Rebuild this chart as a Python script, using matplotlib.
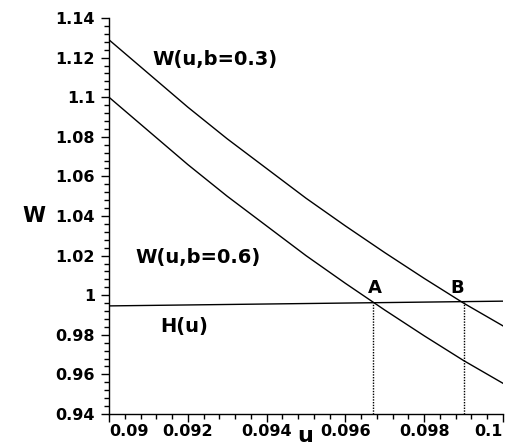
import numpy as np
import matplotlib.pyplot as plt
from matplotlib.ticker import AutoMinorLocator, FuncFormatter

# values
u = [0.090, 0.091, 0.092, 0.093, 0.094, 0.095, 0.096, 0.097, 0.098, 0.099, 0.100]
w_b03 = [1.129, 1.112, 1.095, 1.079, 1.064, 1.049, 1.035, 1.0215, 1.0085, 0.996, 0.9845]
w_b06 = [1.100, 1.083, 1.066, 1.050, 1.035, 1.020, 1.006, 0.9925, 0.9795, 0.967, 0.9555]
h_u = [0.090, 0.100]
h_val = [0.9946, 0.997]
u_A, h_A = 0.0967, 0.9961
u_B, h_B = 0.0990, 0.9967

plt.rcParams['font.family'] = ['DejaVu Sans']
plt.rcParams['font.weight'] = 'bold'

fig = plt.figure(figsize=(5.16, 4.47), dpi=100)
ax = fig.add_axes([0.2112, 0.0738, 0.7636, 0.8859])

ax.plot(u, w_b03, color='black', lw=1.0)
ax.plot(u, w_b06, color='black', lw=1.0)
ax.plot(h_u, h_val, color='black', lw=1.0)
ax.plot([u_A, u_A], [0.94, h_A], color='black', lw=1.0, ls=(0, (1, 1)))
ax.plot([u_B, u_B], [0.94, h_B], color='black', lw=1.0, ls=(0, (1, 1)))

ax.set_xlim(0.09, 0.1)
ax.set_ylim(0.94, 1.14)
ax.set_xticks([0.09, 0.092, 0.094, 0.096, 0.098, 0.1])
ax.set_yticks([0.94, 0.96, 0.98, 1.0, 1.02, 1.04, 1.06, 1.08, 1.1, 1.12, 1.14])
fmt = FuncFormatter(lambda v, p: '%g' % round(v, 4))
ax.xaxis.set_major_formatter(fmt)
ax.yaxis.set_major_formatter(fmt)
ax.xaxis.set_minor_locator(AutoMinorLocator(5))
ax.yaxis.set_minor_locator(AutoMinorLocator(5))

for s in ['top', 'right']:
    ax.spines[s].set_visible(False)
ax.spines['left'].set_linewidth(1.0)
ax.spines['bottom'].set_linewidth(1.0)

ax.tick_params(axis='both', which='major', direction='out', length=6, width=1, labelsize=11.5)
ax.tick_params(axis='both', which='minor', direction='out', length=3.5, width=1)
ax.tick_params(axis='x', which='major', pad=1)
ax.tick_params(axis='y', which='major', pad=4)

xl = ax.get_xticklabels()
xl[0].set_horizontalalignment('left')
xl[-1].set_horizontalalignment('right')
for t in ax.get_xticklabels() + ax.get_yticklabels():
    t.set_fontweight('bold')

ax.text(0.09109, 1.1188, 'W(u,b=0.3)', fontsize=14, fontweight='bold', va='center', ha='left')
ax.text(0.09066, 1.0188, 'W(u,b=0.6)', fontsize=14, fontweight='bold', va='center', ha='left')
ax.text(0.0913, 0.9844, 'H(u)', fontsize=14, fontweight='bold', va='center', ha='left')
ax.text(0.09676, 1.0035, 'A', fontsize=13, fontweight='bold', va='center', ha='center')
ax.text(0.09885, 1.0035, 'B', fontsize=13, fontweight='bold', va='center', ha='center')

fig.text(34 / 516, 1 - 216 / 447, 'W', fontsize=15, fontweight='bold', va='center', ha='center')
fig.text(305 / 516, 5 / 447, 'u', fontsize=16, fontweight='bold', va='baseline', ha='center')

fig.savefig('out.png', dpi=100)
